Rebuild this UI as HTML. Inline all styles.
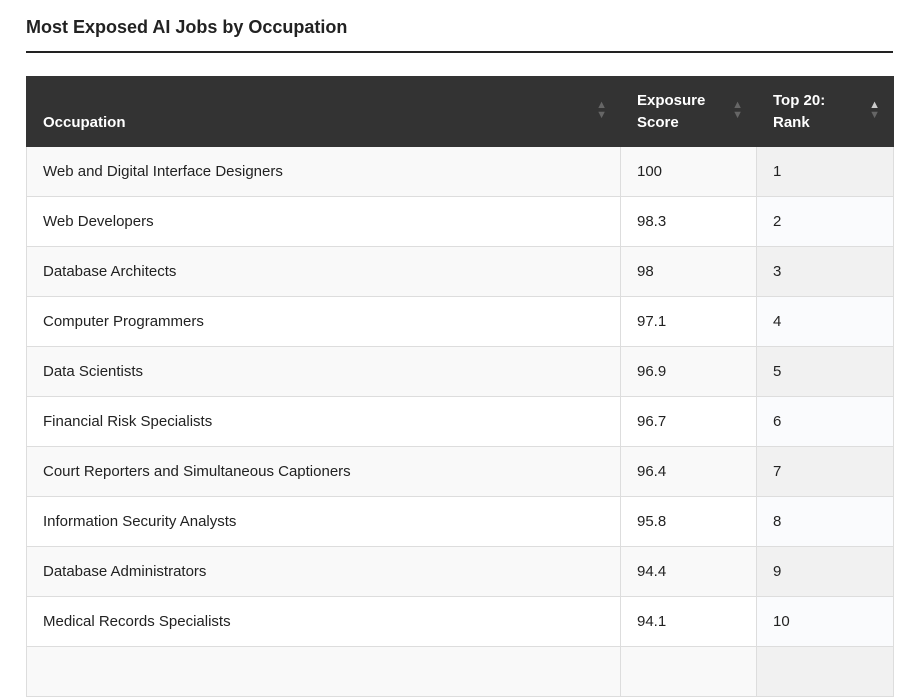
<!DOCTYPE html>
<html><head><style>
body{margin:0;width:900px;height:656px;overflow:hidden;background:#fff;font-family:"Liberation Sans",sans-serif;color:#222}
h1{position:absolute;left:26px;top:17px;margin:0;font-size:18px;font-weight:bold;color:#222}
.rule{position:absolute;left:26px;top:51px;width:867px;height:2px;background:#222}
table{position:absolute;left:26px;top:76px;border-collapse:collapse;width:867px;table-layout:fixed;font-size:15px}
th{background:#333;color:#fff;text-align:left;font-weight:bold;height:69px;padding:0 16px;vertical-align:middle;position:relative;line-height:22px;border:1px solid #333}
th .s{position:absolute;right:13px;top:23px;font-size:11px;line-height:10px;color:#666}
td{height:49px;padding:0 16px;border:1px solid #ddd;background:#fff}
tr:nth-child(odd) td{background:#f9f9f9}
tr:nth-child(odd) td:last-child{background:#f1f1f1}
tr:nth-child(even) td:last-child{background:#fafbfd}
</style></head><body>
<h1>Most Exposed AI Jobs by Occupation</h1>
<div class="rule"></div>
<table>
<colgroup><col style="width:594px"><col style="width:136px"><col style="width:137px"></colgroup>
<thead><tr>
<th><div style="position:absolute;left:16px;top:35px">Occupation</div><span class="s">▲<br>▼</span></th>
<th>Exposure<br>Score<span class="s">▲<br>▼</span></th>
<th>Top 20:<br>Rank<span class="s"><span style="color:#ccc">▲</span><br>▼</span></th>
</tr></thead>
<tbody>
<tr><td>Web and Digital Interface Designers</td><td>100</td><td>1</td></tr>
<tr><td>Web Developers</td><td>98.3</td><td>2</td></tr>
<tr><td>Database Architects</td><td>98</td><td>3</td></tr>
<tr><td>Computer Programmers</td><td>97.1</td><td>4</td></tr>
<tr><td>Data Scientists</td><td>96.9</td><td>5</td></tr>
<tr><td>Financial Risk Specialists</td><td>96.7</td><td>6</td></tr>
<tr><td>Court Reporters and Simultaneous Captioners</td><td>96.4</td><td>7</td></tr>
<tr><td>Information Security Analysts</td><td>95.8</td><td>8</td></tr>
<tr><td>Database Administrators</td><td>94.4</td><td>9</td></tr>
<tr><td>Medical Records Specialists</td><td>94.1</td><td>10</td></tr>
<tr><td>&nbsp;</td><td></td><td></td></tr>
</tbody></table>
</body></html>
